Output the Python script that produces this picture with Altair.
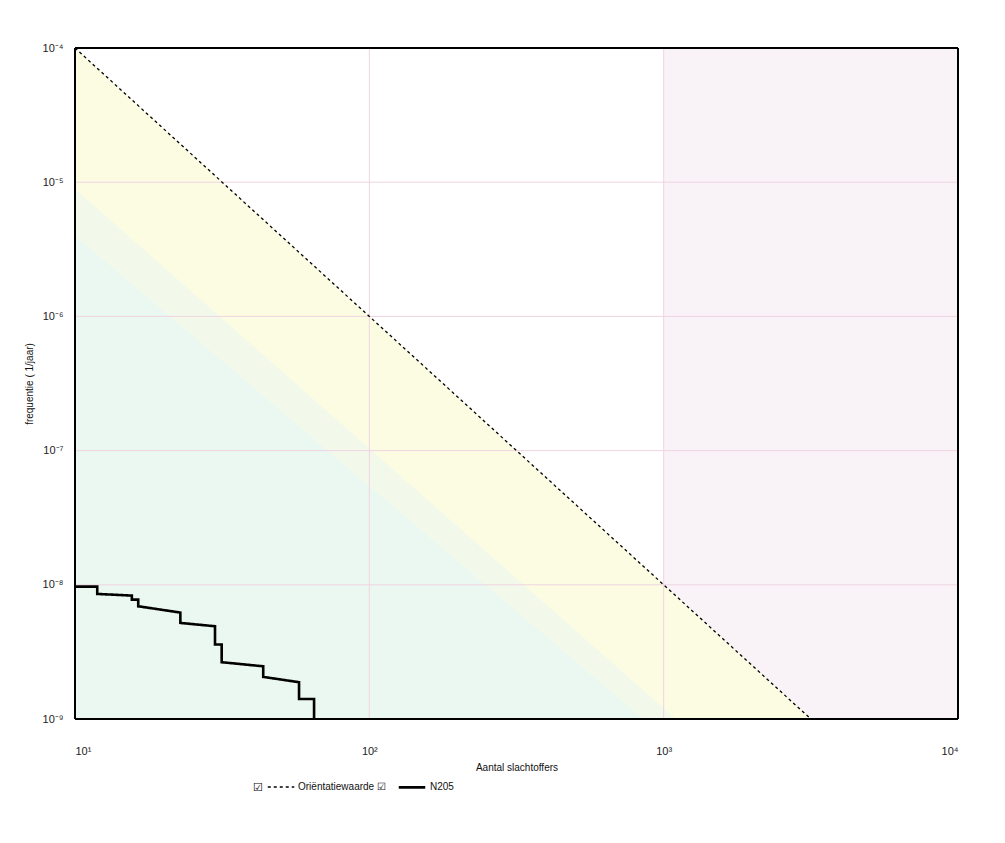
import altair as alt
import pandas as pd

# ---------------- data ----------------
# Orientation value (oriëntatiewaarde) line
orient_x = [10, 100, 1000, 3162]
orient_y = [1e-4, 1e-6, 1e-8, 1e-9]

# N205 FN curve vertices (step line)
n205_x = [10, 11.9, 11.9, 15.6, 15.6, 16.4, 16.4, 22.8, 22.8, 29.9, 29.9,
          31.5, 31.5, 43.6, 43.6, 57.7, 57.7, 64.9, 64.9]
n205_y = [9.7e-9, 9.7e-9, 8.55e-9, 8.31e-9, 7.76e-9, 7.76e-9, 6.92e-9, 6.21e-9,
          5.2e-9, 4.91e-9, 3.59e-9, 3.59e-9, 2.65e-9, 2.47e-9, 2.06e-9,
          1.88e-9, 1.41e-9, 1.41e-9, 1e-9]

# background zones (x, lower y, upper y)
yellow_x = [10, 3162]
yellow_lo = [1e-9, 1e-9]
yellow_hi = [1e-4, 1e-9]

mix_x = [10, 1100]
mix_lo = [1e-9, 1e-9]
mix_hi = [10 ** -5.05, 1e-9]

green_x = [10, 850]
green_lo = [1e-9, 1e-9]
green_hi = [10 ** -5.4, 1e-9]

pink_x = [1000, 3162, 10000]
pink_lo = [1e-8, 1e-9, 1e-9]
pink_hi = [1e-4, 1e-4, 1e-4]

series_names = ["Oriëntatiewaarde", "N205"]
x_tick_values = [10, 100, 1000, 10000]
x_tick_labels = ["10¹", "10²", "10³", "10⁴"]
y_tick_values = [1e-9, 1e-8, 1e-7, 1e-6, 1e-5, 1e-4]
y_tick_labels = ["10⁻⁹", "10⁻⁸", "10⁻⁷", "10⁻⁶", "10⁻⁵", "10⁻⁴"]
x_frame = [10, 10000]
y_frame = [1e-9, 1e-4]

FONT = "Liberation Sans"
GRID = "#f0d4e2"

# ---------------- tables ----------------
lines_df = pd.concat([
    pd.DataFrame({"x": orient_x, "y": orient_y, "series": series_names[0],
                  "idx": range(len(orient_x))}),
    pd.DataFrame({"x": n205_x, "y": n205_y, "series": series_names[1],
                  "idx": range(len(n205_x))}),
], ignore_index=True)


def zone(xs, lo, hi):
    return pd.DataFrame({"x": xs, "lo": lo, "hi": hi})


xscale = alt.Scale(type="log", domain=[10, 10000], nice=False)
yscale = alt.Scale(type="log", domain=[1e-9, 1e-4], nice=False)

x_label_expr = "[" + ",".join("'%s'" % s for s in x_tick_labels) + "][round(log(datum.value)/LN10) - 1]"
y_label_expr = "[" + ",".join("'%s'" % s for s in y_tick_labels) + "][round(log(datum.value)/LN10) + 9]"

x_axis = alt.Axis(values=x_tick_values, labelExpr=x_label_expr, ticks=False,
                  domain=False, grid=False,
                  labelPadding=26, labelFontSize=11, labelColor="#222222",
                  labelFont=FONT, title="Aantal slachtoffers", titleFont=FONT,
                  titleFontSize=10, titleFontWeight="normal", titlePadding=6,
                  titleColor="#111111")
y_axis = alt.Axis(values=y_tick_values, labelExpr=y_label_expr, ticks=False,
                  domain=False, grid=False,
                  labelPadding=12, labelFontSize=11, labelColor="#222222",
                  labelFont=FONT, title="frequentie ( 1/jaar)", titleFont=FONT,
                  titleFontSize=10, titleFontWeight="normal", titlePadding=8,
                  titleColor="#111111")


def zone_layer(df, color):
    return alt.Chart(df).mark_area(color=color, opacity=1, clip=True).encode(
        x=alt.X("x:Q", scale=xscale, axis=x_axis),
        y=alt.Y("hi:Q", scale=yscale, axis=y_axis),
        y2="lo:Q",
    )


pink = zone_layer(zone(pink_x, pink_lo, pink_hi), "#f9f2f7")
yellow = zone_layer(zone(yellow_x, yellow_lo, yellow_hi), "#fcfce2")
mix = zone_layer(zone(mix_x, mix_lo, mix_hi), "#f2f9ea")
green = zone_layer(zone(green_x, green_lo, green_hi), "#ebf7f1")

# grid drawn above the zones
vgrid = alt.Chart(pd.DataFrame({"x": x_tick_values})).mark_rule(
    color=GRID, strokeWidth=1).encode(x=alt.X("x:Q", scale=xscale))
hgrid = alt.Chart(pd.DataFrame({"y": y_tick_values})).mark_rule(
    color=GRID, strokeWidth=1).encode(y=alt.Y("y:Q", scale=yscale))

# black plot frame
vframe = alt.Chart(pd.DataFrame({"x": x_frame})).mark_rule(
    color="black", strokeWidth=2).encode(x=alt.X("x:Q", scale=xscale))
hframe = alt.Chart(pd.DataFrame({"y": y_frame})).mark_rule(
    color="black", strokeWidth=2).encode(y=alt.Y("y:Q", scale=yscale))

lines = alt.Chart(lines_df).mark_line(clip=True).encode(
    x=alt.X("x:Q", scale=xscale),
    y=alt.Y("y:Q", scale=yscale),
    order="idx:Q",
    color=alt.Color("series:N",
                    scale=alt.Scale(domain=series_names, range=["black", "black"]),
                    legend=alt.Legend(
                        title="☑", titleOrient="left", titleFontSize=11,
                        titleFont="DejaVu Sans", titleFontWeight="normal",
                        titlePadding=4, titleAnchor="end", titleBaseline="bottom",
                        orient="none", legendX=178, legendY=724,
                        direction="horizontal", symbolType="stroke",
                        symbolSize=700, symbolStrokeWidth=1.5,
                        labelFont=FONT, labelFontSize=10, labelColor="#111111",
                        labelExpr="datum.label == '%s' ? '%s  ☑' : datum.label" % (series_names[0], series_names[0]),
                        columnPadding=4, labelOffset=3)),
    strokeDash=alt.StrokeDash("series:N",
                              scale=alt.Scale(domain=series_names, range=[[3, 3], [1, 0]]),
                              legend=alt.Legend(title="☑")),
    strokeWidth=alt.StrokeWidth("series:N",
                                scale=alt.Scale(domain=series_names, range=[1.3, 2.6]),
                                legend=None),
)

chart = alt.layer(pink, yellow, mix, green, vgrid, hgrid, lines, vframe, hframe).properties(
    width=883, height=671,
    autosize=alt.AutoSizeParams(type="none"),
    padding={"left": 67, "top": 40, "right": 30, "bottom": 100},
    background="white",
).configure_view(stroke=None)

chart.save("out.html", embed_options={"renderer": "svg", "actions": False})
